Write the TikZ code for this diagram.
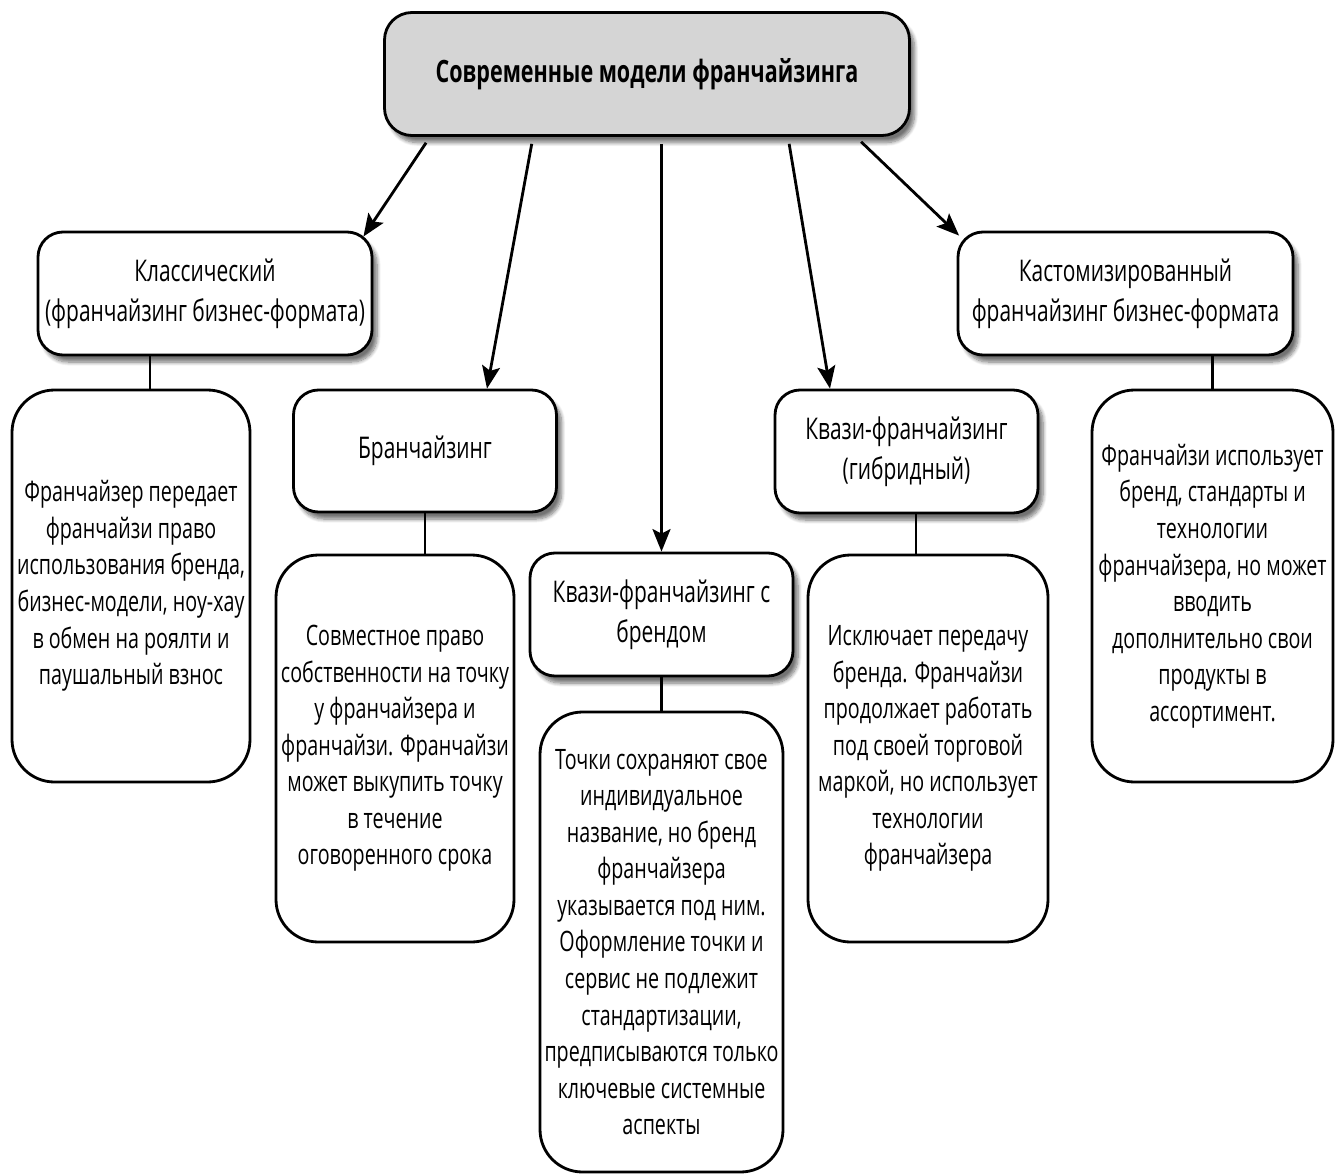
\documentclass[tikz,border=0pt]{standalone}
\usepackage{fontspec}
\setmainfont[FakeStretch=0.70]{Open Sans}
\usepackage{tikz}
\usetikzlibrary{arrows.meta, positioning, shadows.blur}

\begin{document}
\begin{tikzpicture}[
    box/.style={draw, line width=1.6pt, rounded corners=0.5cm, fill=white, align=center,
                minimum width=5.26cm, minimum height=2.46cm, inner sep=2pt,
                font=\fontsize{17}{22.7}\selectfont,
                blur shadow={shadow xshift=1mm, shadow yshift=-1.4mm, shadow blur steps=8, shadow opacity=55}},
    descbox/.style={draw, line width=1.6pt, rounded corners=0.85cm, fill=white, align=center,
                minimum width=4.8cm, inner sep=2pt, font=\fontsize{16}{20.8}\selectfont},
    arr/.style={-{Stealth[length=4.5mm, width=3.6mm, inset=0.9mm]}, line width=1.6pt, shorten <=4pt},
    link/.style={line width=1.6pt}
]
\useasboundingbox (0,0) rectangle (26.82,-23.5);
% top level
\node[box, fill=gray!33, minimum width=10.5cm, rounded corners=0.55cm,
      font=\fontsize{17.5}{22}\selectfont\bfseries] (top) at (12.94,-1.48)
      {Современные модели франчайзинга};
% models
\node[box, minimum width=6.68cm] (classic) at (4.10,-5.87)
      {Классический\\(франчайзинг бизнес-формата)};
\node[box, minimum height=2.44cm] (branch) at (8.50,-9.02) {Бранчайзинг};
\node[box] (qbrand) at (13.23,-12.29) {Квази-франчайзинг с\\брендом};
\node[box] (hybrid) at (18.13,-9.03) {Квази-франчайзинг\\(гибридный)};
\node[box, minimum width=6.70cm] (custom) at (22.51,-5.87)
      {Кастомизированный\\франчайзинг бизнес-формата};
% descriptions
\node[descbox, minimum height=7.84cm, minimum width=4.76cm] (cdesc) at (2.62,-11.72)
      {Франчайзер передает\\франчайзи право\\использования бренда,\\бизнес-модели, ноу-хау\\в обмен на роялти и\\паушальный взнос};
\node[descbox, minimum height=7.74cm, minimum width=4.76cm] (bdesc) at (7.90,-14.97)
      {Совместное право\\собственности на точку\\у франчайзера и\\франчайзи. Франчайзи\\может выкупить точку\\в течение\\оговоренного срока};
\node[descbox, minimum height=9.2cm, minimum width=4.86cm] (qdesc) at (13.23,-18.84)
      {Точки сохраняют свое\\индивидуальное\\название, но бренд\\франчайзера\\указывается под ним.\\Оформление точки и\\сервис не подлежит\\стандартизации,\\предписываются только\\ключевые системные\\аспекты};
\node[descbox, minimum height=7.74cm] (hdesc) at (18.56,-14.97)
      {Исключает передачу\\бренда. Франчайзи\\продолжает работать\\под своей торговой\\маркой, но использует\\технологии\\франчайзера};
\node[descbox, minimum height=7.84cm, minimum width=4.82cm] (kdesc) at (24.25,-11.72)
      {\raisebox{0.4cm}{\begin{tabular}{@{}c@{}}Франчайзи использует\\бренд, стандарты и\\технологии\\франчайзера, но может\\вводить\\дополнительно свои\\продукты в\\ассортимент.\end{tabular}}};
% arrows from the top box
\draw[arr] ([xshift=-4.34cm]top.south) -- ([shift={(-0.2,-0.12)}]classic.north east);
\draw[arr] ([xshift=-2.28cm]top.south) -- ([xshift=1.24cm]branch.north);
\draw[arr] (top.south -| qbrand.north) -- (qbrand.north);
\draw[arr] ([xshift=2.82cm]top.south) -- ([xshift=-1.53cm]hybrid.north);
\draw[arr] ([xshift=4.18cm]top.south) -- ([shift={(0.05,-0.1)}]custom.north west);
% links to descriptions
\draw[link] ([xshift=-1.1cm]classic.south) -- ([xshift=-1.1cm]classic.south |- cdesc.north);
\draw[link] (branch.south) -- (branch.south |- bdesc.north);
\draw[link] (qbrand.south) -- (qbrand.south |- qdesc.north);
\draw[link] ([xshift=0.19cm]hybrid.south) -- ([xshift=0.19cm]hybrid.south |- hdesc.north);
\draw[link] (kdesc.north |- custom.south) -- (kdesc.north);
\end{tikzpicture}
\end{document}
